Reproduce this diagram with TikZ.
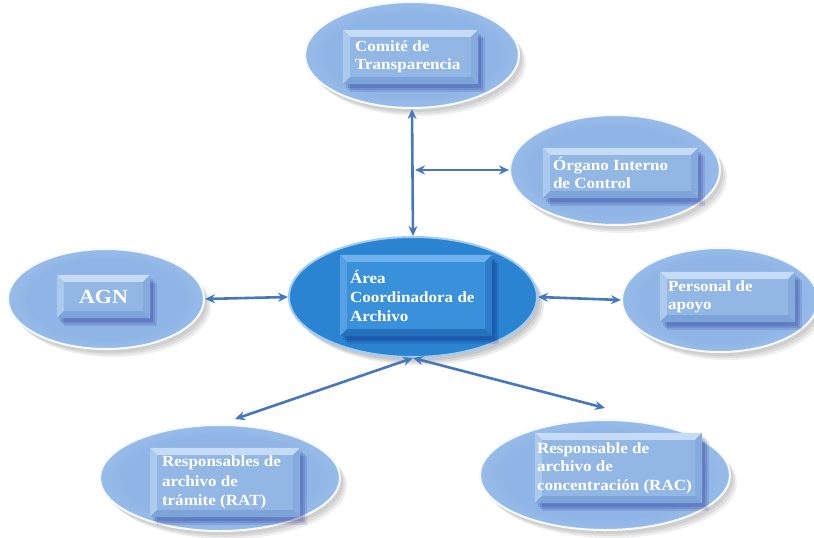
\documentclass[tikz,border=0pt]{standalone}
\usepackage{fontspec}
\setmainfont{Liberation Serif}[FakeStretch=1.1]
\usetikzlibrary{shapes.geometric,shadows,arrows.meta}
\definecolor{ecen}{HTML}{8FB5E6}
\definecolor{emid}{HTML}{B0CDF0}
\definecolor{elight}{HTML}{DCEAFA}
\definecolor{eedge}{HTML}{F6FAFE}
\definecolor{ccen}{HTML}{2A84D2}
\definecolor{cmid}{HTML}{3391DC}
\definecolor{cedge}{HTML}{5FACEB}
\definecolor{rface}{HTML}{92B7E5}
\definecolor{rtop}{HTML}{C6DBF5}
\definecolor{rleft}{HTML}{ACC9EE}
\definecolor{rright}{HTML}{85ABDD}
\definecolor{rbot}{HTML}{7CA4D9}
\definecolor{cface}{HTML}{3A91DB}
\definecolor{ctop}{HTML}{6FB1EC}
\definecolor{cleft}{HTML}{56A1E4}
\definecolor{cright}{HTML}{2C7CC7}
\definecolor{cbot}{HTML}{2570BB}
\definecolor{arr}{HTML}{4678C0}
\pgfdeclareradialshading{ellsh}{\pgfpoint{0bp}{0bp}}{color(0bp)=(ecen); color(20bp)=(ecen); color(38bp)=(emid); color(46bp)=(elight); color(50bp)=(eedge)}
\pgfdeclareradialshading{censh}{\pgfpoint{0bp}{0bp}}{color(0bp)=(ccen); color(30bp)=(ccen); color(44bp)=(cmid); color(50bp)=(cedge)}
\newcommand\bvd{7pt}
\newcommand\bvl[5]{%
  \fill[#2] (#1.north west) -- (#1.north east) -- ([shift={(-\bvd,-\bvd)}]#1.north east) -- ([shift={(\bvd,-\bvd)}]#1.north west) -- cycle;
  \fill[#3] (#1.north west) -- (#1.south west) -- ([shift={(\bvd,\bvd)}]#1.south west) -- ([shift={(\bvd,-\bvd)}]#1.north west) -- cycle;
  \fill[#4] (#1.north east) -- (#1.south east) -- ([shift={(-\bvd,\bvd)}]#1.south east) -- ([shift={(-\bvd,-\bvd)}]#1.north east) -- cycle;
  \fill[#5] (#1.south west) -- (#1.south east) -- ([shift={(-\bvd,\bvd)}]#1.south east) -- ([shift={(\bvd,\bvd)}]#1.south west) -- cycle;
}
\tikzset{
  softshadow/.style={
    drop shadow={shadow xshift=3pt, shadow yshift=-4pt, fill=#1, opacity=0.12},
    drop shadow={shadow xshift=5pt, shadow yshift=-6pt, fill=#1, opacity=0.12},
    drop shadow={shadow xshift=7pt, shadow yshift=-8pt, fill=#1, opacity=0.10}},
  ell/.style={ellipse, shading=ellsh, draw=eedge, line width=2pt, inner sep=0pt, softshadow=black!60},
  cell/.style={ellipse, shading=censh, draw=cedge!60!white, line width=2pt, inner sep=0pt, softshadow=black!70},
  box/.style={rectangle, fill=rface, inner sep=0pt, softshadow=blue!45!black},
  cbox/.style={rectangle, fill=cface, inner sep=0pt, softshadow=blue!35!black},
  lbl/.style={anchor=west, align=left, inner sep=0pt, text=white,
    font=\bfseries\fontsize{15.5}{18.5}\selectfont},
  conn/.style={draw=arr, line width=2.6pt, {Stealth[length=10pt,width=9pt]}-{Stealth[length=10pt,width=9pt]}}
}
\begin{document}
\begin{tikzpicture}[x=1pt,y=-1pt]
\useasboundingbox (0,0) rectangle (814,538);
\fill[white] (0,0) rectangle (814,538);
% ellipses
\node[ell, minimum width=214pt, minimum height=106pt] (comite) at (412,55) {};
\node[ell, minimum width=210pt, minimum height=110pt] (organo) at (615,170) {};
\node[ell, minimum width=196pt, minimum height=100pt] (agn) at (106,299) {};
\node[cell, minimum width=248pt, minimum height=120pt] (central) at (413,297) {};
\node[ell, minimum width=196pt, minimum height=104pt] (personal) at (720,300) {};
\node[ell, minimum width=240pt, minimum height=106pt] (rat) at (220,478) {};
\node[ell, minimum width=250pt, minimum height=110pt] (rac) at (605,475) {};
% inner boxes
\node[box, minimum width=135pt, minimum height=54pt] (bcomite) at (410.5,57) {};
\bvl{bcomite}{rtop}{rleft}{rright}{rbot}
\node[box, minimum width=155pt, minimum height=50pt] (borgano) at (620.5,173) {};
\bvl{borgano}{rtop}{rleft}{rright}{rbot}
\node[box, minimum width=93pt, minimum height=43pt] (bagn) at (103.5,296.5) {};
\bvl{bagn}{rtop}{rleft}{rright}{rbot}
\node[cbox, minimum width=152pt, minimum height=81pt] (bcentral) at (416,295.5) {};
\bvl{bcentral}{ctop}{cleft}{cright}{cbot}
\node[box, minimum width=135pt, minimum height=50pt] (bpersonal) at (727.5,297) {};
\bvl{bpersonal}{rtop}{rleft}{rright}{rbot}
\node[box, minimum width=150pt, minimum height=69pt] (brat) at (225,482.5) {};
\bvl{brat}{rtop}{rleft}{rright}{rbot}
\node[box, minimum width=167pt, minimum height=70pt] (brac) at (618.5,468) {};
\bvl{brac}{rtop}{rleft}{rright}{rbot}
% labels
\node[lbl] (tcomite) at ([xshift=12pt]bcomite.west) {Comité de\\Transparencia};
\node[lbl] (torgano) at ([xshift=10pt]borgano.west) {Órgano Interno\\de Control};
\node[lbl, anchor=center, font=\bfseries\fontsize{20}{22}\selectfont] (tagn) at (bagn.center) {AGN};
\node[lbl, font=\bfseries\fontsize{15.5}{19}\selectfont] (tcentral) at ([xshift=10pt]bcentral.west) {Área\\Coordinadora de\\Archivo};
\node[lbl] (tpersonal) at ([xshift=8pt]bpersonal.west) {Personal de\\apoyo};
\node[lbl, font=\bfseries\fontsize{15.5}{19.5}\selectfont] (trat) at ([xshift=12pt]brat.west) {Responsables de\\archivo de\\trámite (RAT)};
\node[lbl] (trac) at ([xshift=2pt]brac.west) {Responsable de\\archivo de\\concentración (RAC)};
% connectors
\coordinate (branch) at (415,170);
\coordinate (ratend) at (235,419);
\coordinate (racend) at (605,408);
\draw[conn] (comite.south) -- (central.north);
\draw[conn] (branch) -- (organo.west);
\draw[conn] (agn.east) -- (central.west);
\draw[conn] (central.east) -- (personal.west);
\draw[conn] (central.south) -- (ratend);
\draw[conn] (central.south) -- (racend);
\end{tikzpicture}
\end{document}
